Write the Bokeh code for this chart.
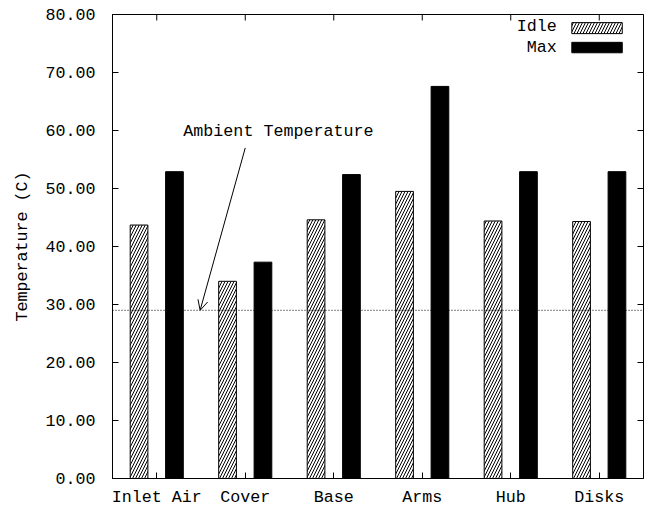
from bokeh.plotting import figure
from bokeh.models import (Range1d, FixedTicker, NumeralTickFormatter,
                          Span, Arrow, OpenHead, Label, ColumnDataSource)
from bokeh.transform import dodge
from bokeh.embed import file_html
from bokeh.resources import INLINE

# ---- data ----
categories = ["Inlet Air", "Cover", "Base", "Arms", "Hub", "Disks"]
idle_temp = [43.7, 34.0, 44.6, 49.5, 44.4, 44.3]
max_temp = [52.9, 37.3, 52.4, 67.6, 52.9, 52.9]
ambient_temp = 29.0
y_tick_values = [0, 10, 20, 30, 40, 50, 60, 70, 80]

# ---- style / layout ----
FONT = "Liberation Mono"
FS = "16.7px"
BAR_W = 0.2
OFFSET = 0.2
Y_MIN, Y_MAX = 0, 80
X_MIN, X_MAX = -0.5, len(categories) - 0.5
TICK_PX = 6
FRAME_W, FRAME_H = 531, 464

src = ColumnDataSource(dict(x=list(range(len(categories))), idle=idle_temp, mx=max_temp))

p = figure(width=647, height=510, output_backend="svg", toolbar_location=None,
           x_range=Range1d(X_MIN, X_MAX), y_range=Range1d(Y_MIN, Y_MAX),
           min_border_left=112, min_border_right=4, min_border_top=14, min_border_bottom=32)
p.grid.visible = False
p.outline_line_color = "black"
p.outline_line_width = 1
p.background_fill_color = "white"
p.border_fill_color = "white"

# bars
p.vbar(x=dodge("x", -OFFSET), top="idle", width=BAR_W, source=src,
       fill_color="white", line_color="black", line_width=1,
       hatch_pattern="/", hatch_color="black", hatch_scale=6, hatch_weight=1)
p.vbar(x=dodge("x", OFFSET), top="mx", width=BAR_W, source=src,
       fill_color="black", line_color="black", line_width=1)

# ambient line
p.add_layout(Span(location=ambient_temp, dimension="width", line_color="black",
                  line_width=1, line_dash="1 2"))
p.add_layout(Label(x=0.30, y=59.8, text="Ambient Temperature", text_font=FONT,
                   text_font_size=FS, text_baseline="middle", text_align="left",
                   text_color="black"))
p.add_layout(Arrow(end=OpenHead(size=10, line_width=1, line_color="black"),
                   x_start=1.0, y_start=57.0, x_end=0.49, y_end=ambient_temp,
                   line_color="black", line_width=1))

# legend (gnuplot style: text left, swatch right)
LEG_TX = 4.52
LEG_X0, LEG_X1 = 4.69, 5.26
p.quad(left=[LEG_X0], right=[LEG_X1], bottom=[76.7], top=[78.6],
       fill_color="white", line_color="black", line_width=1,
       hatch_pattern="/", hatch_color="black", hatch_scale=6, hatch_weight=1)
p.quad(left=[LEG_X0], right=[LEG_X1], bottom=[73.4], top=[75.2],
       fill_color="black", line_color="black", line_width=1)
p.add_layout(Label(x=LEG_TX, y=77.9, text="Idle", text_font=FONT, text_font_size=FS,
                   text_align="right", text_baseline="middle", text_color="black"))
p.add_layout(Label(x=LEG_TX, y=74.3, text="Max", text_font=FONT, text_font_size=FS,
                   text_align="right", text_baseline="middle", text_color="black"))

# mirrored inward ticks on top and right (gnuplot style)
x_ticks = list(range(len(categories)))
dy = TICK_PX * (Y_MAX - Y_MIN) / FRAME_H
dx = TICK_PX * (X_MAX - X_MIN) / FRAME_W
p.segment(x0=x_ticks, y0=[Y_MAX] * len(x_ticks), x1=x_ticks, y1=[Y_MAX - dy] * len(x_ticks),
          line_color="black", line_width=1)
p.segment(x0=[X_MAX] * len(y_tick_values), y0=y_tick_values,
          x1=[X_MAX - dx] * len(y_tick_values), y1=y_tick_values,
          line_color="black", line_width=1)

# axes
def style_axis(ax):
    ax.axis_line_color = "black"
    ax.major_tick_line_color = "black"
    ax.major_tick_in = TICK_PX
    ax.major_tick_out = 0
    ax.minor_tick_in = 0
    ax.minor_tick_out = 0
    ax.major_label_text_font = FONT
    ax.major_label_text_font_size = FS
    ax.major_label_text_color = "black"

xa = p.xaxis[0]
xa.ticker = FixedTicker(ticks=x_ticks)
xa.major_label_overrides = {i: c for i, c in enumerate(categories)}
style_axis(xa)
xa.major_label_standoff = 9

ya = p.yaxis[0]
ya.ticker = FixedTicker(ticks=y_tick_values)
ya.formatter = NumeralTickFormatter(format="0.00")
style_axis(ya)
ya.major_label_standoff = 17
ya.axis_label = "Temperature (C)"
ya.axis_label_text_font = FONT
ya.axis_label_text_font_size = FS
ya.axis_label_text_font_style = "normal"
ya.axis_label_text_color = "black"
ya.axis_label_standoff = 10

open("out.html", "w").write(file_html(p, INLINE))
